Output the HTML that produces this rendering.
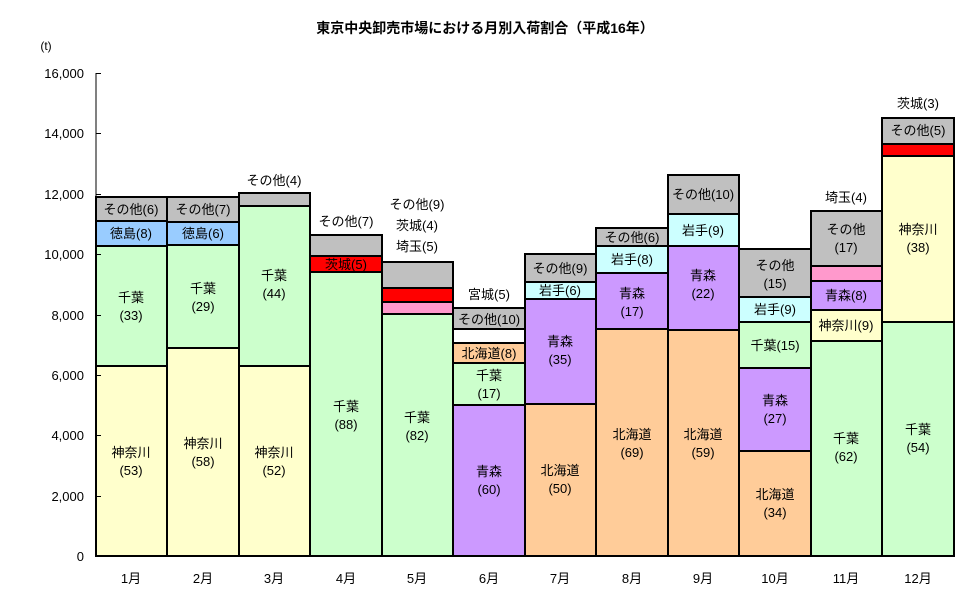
<!DOCTYPE html>
<html><head><meta charset="utf-8"><style>
body{margin:0;background:#fff}
svg text{font-family:"Liberation Sans","Noto Sans CJK JP",sans-serif;font-size:13px;fill:#000}
.s rect{stroke:#000;stroke-width:2}
</style></head><body>
<svg width="970" height="604" viewBox="0 0 970 604" xmlns="http://www.w3.org/2000/svg">
<text x="485" y="33" text-anchor="middle" style="font-weight:bold;font-size:14px">東京中央卸売市場における月別入荷割合（平成16年）</text>
<text x="46" y="50" text-anchor="middle" style="font-size:12px">(t)</text>
<g text-anchor="end" style="font-size:12px">
<text x="84" y="78">16,000</text><text x="84" y="138">14,000</text><text x="84" y="199">12,000</text><text x="84" y="259">10,000</text><text x="84" y="320">8,000</text><text x="84" y="380">6,000</text><text x="84" y="440">4,000</text><text x="84" y="501">2,000</text><text x="84" y="561">0</text>
</g>
<g class="s">
<!-- 1 -->
<rect x="96" y="366" width="71" height="190" fill="#FFFFCC"/><rect x="96" y="246" width="71" height="120" fill="#CCFFCC"/><rect x="96" y="221" width="71" height="25" fill="#99CCFF"/><rect x="96" y="197" width="71" height="24" fill="#C0C0C0"/>
<!-- 2 -->
<rect x="167" y="348" width="72" height="208" fill="#FFFFCC"/><rect x="167" y="245" width="72" height="103" fill="#CCFFCC"/><rect x="167" y="222" width="72" height="23" fill="#99CCFF"/><rect x="167" y="197" width="72" height="25" fill="#C0C0C0"/>
<!-- 3 -->
<rect x="239" y="366" width="71" height="190" fill="#FFFFCC"/><rect x="239" y="206" width="71" height="160" fill="#CCFFCC"/><rect x="239" y="193" width="71" height="13" fill="#C0C0C0"/>
<!-- 4 -->
<rect x="310" y="272" width="72" height="284" fill="#CCFFCC"/><rect x="310" y="256" width="72" height="16" fill="#FF0000"/><rect x="310" y="235" width="72" height="21" fill="#C0C0C0"/>
<!-- 5 -->
<rect x="382" y="314" width="71" height="242" fill="#CCFFCC"/><rect x="382" y="302" width="71" height="12" fill="#FF99CC"/><rect x="382" y="288" width="71" height="14" fill="#FF0000"/><rect x="382" y="262" width="71" height="26" fill="#C0C0C0"/>
<!-- 6 -->
<rect x="453" y="405" width="72" height="151" fill="#CC99FF"/><rect x="453" y="363" width="72" height="42" fill="#CCFFCC"/><rect x="453" y="343" width="72" height="20" fill="#FFCC99"/><rect x="453" y="329" width="72" height="14" fill="#FFFFFF"/><rect x="453" y="308" width="72" height="21" fill="#C0C0C0"/>
<!-- 7 -->
<rect x="525" y="404" width="71" height="152" fill="#FFCC99"/><rect x="525" y="299" width="71" height="105" fill="#CC99FF"/><rect x="525" y="282" width="71" height="17" fill="#CCFFFF"/><rect x="525" y="254" width="71" height="28" fill="#C0C0C0"/>
<!-- 8 -->
<rect x="596" y="329" width="72" height="227" fill="#FFCC99"/><rect x="596" y="273" width="72" height="56" fill="#CC99FF"/><rect x="596" y="246" width="72" height="27" fill="#CCFFFF"/><rect x="596" y="228" width="72" height="18" fill="#C0C0C0"/>
<!-- 9 -->
<rect x="668" y="330" width="71" height="226" fill="#FFCC99"/><rect x="668" y="246" width="71" height="84" fill="#CC99FF"/><rect x="668" y="214" width="71" height="32" fill="#CCFFFF"/><rect x="668" y="175" width="71" height="39" fill="#C0C0C0"/>
<!-- 10 -->
<rect x="739" y="451" width="72" height="105" fill="#FFCC99"/><rect x="739" y="368" width="72" height="83" fill="#CC99FF"/><rect x="739" y="322" width="72" height="46" fill="#CCFFCC"/><rect x="739" y="297" width="72" height="25" fill="#CCFFFF"/><rect x="739" y="249" width="72" height="48" fill="#C0C0C0"/>
<!-- 11 -->
<rect x="811" y="341" width="71" height="215" fill="#CCFFCC"/><rect x="811" y="310" width="71" height="31" fill="#FFFFCC"/><rect x="811" y="281" width="71" height="29" fill="#CC99FF"/><rect x="811" y="266" width="71" height="15" fill="#FF99CC"/><rect x="811" y="211" width="71" height="55" fill="#C0C0C0"/>
<!-- 12 -->
<rect x="882" y="322" width="72" height="234" fill="#CCFFCC"/><rect x="882" y="156" width="72" height="166" fill="#FFFFCC"/><rect x="882" y="144" width="72" height="12" fill="#FF0000"/><rect x="882" y="118" width="72" height="26" fill="#C0C0C0"/>
</g>
<line x1="96" y1="73" x2="96" y2="556" stroke="#000" stroke-width="1"/>
<line x1="96" y1="556" x2="955" y2="556" stroke="#000" stroke-width="1"/>
<g stroke="#000" stroke-width="1">
<line x1="96" y1="73.5" x2="101" y2="73.5"/><line x1="96" y1="133.5" x2="101" y2="133.5"/><line x1="96" y1="194.5" x2="101" y2="194.5"/><line x1="96" y1="254.5" x2="101" y2="254.5"/><line x1="96" y1="315.5" x2="101" y2="315.5"/><line x1="96" y1="375.5" x2="101" y2="375.5"/><line x1="96" y1="435.5" x2="101" y2="435.5"/><line x1="96" y1="496.5" x2="101" y2="496.5"/>
</g>
<g text-anchor="middle">
<text x="131" y="583">1月</text><text x="203" y="583">2月</text><text x="274" y="583">3月</text><text x="346" y="583">4月</text><text x="417" y="583">5月</text><text x="489" y="583">6月</text><text x="560" y="583">7月</text><text x="632" y="583">8月</text><text x="703" y="583">9月</text><text x="775" y="583">10月</text><text x="846" y="583">11月</text><text x="918" y="583">12月</text>
<!-- 1 -->
<text x="131" y="214">その他(6)</text><text x="131" y="238">徳島(8)</text><text x="131" y="302">千葉</text><text x="131" y="320">(33)</text><text x="131" y="457">神奈川</text><text x="131" y="475">(53)</text>
<!-- 2 -->
<text x="203" y="214">その他(7)</text><text x="203" y="238">徳島(6)</text><text x="203" y="293">千葉</text><text x="203" y="311">(29)</text><text x="203" y="448">神奈川</text><text x="203" y="466">(58)</text>
<!-- 3 -->
<text x="274" y="185">その他(4)</text><text x="274" y="280">千葉</text><text x="274" y="298">(44)</text><text x="274" y="457">神奈川</text><text x="274" y="475">(52)</text>
<!-- 4 -->
<text x="346" y="226">その他(7)</text><text x="346" y="269">茨城(5)</text><text x="346" y="411">千葉</text><text x="346" y="429">(88)</text>
<!-- 5 -->
<text x="417" y="209">その他(9)</text><text x="417" y="230">茨城(4)</text><text x="417" y="251">埼玉(5)</text><text x="417" y="422">千葉</text><text x="417" y="440">(82)</text>
<!-- 6 -->
<text x="489" y="299">宮城(5)</text><text x="489" y="324">その他(10)</text><text x="489" y="358">北海道(8)</text><text x="489" y="380">千葉</text><text x="489" y="398">(17)</text><text x="489" y="476">青森</text><text x="489" y="494">(60)</text>
<!-- 7 -->
<text x="560" y="273">その他(9)</text><text x="560" y="295">岩手(6)</text><text x="560" y="346">青森</text><text x="560" y="364">(35)</text><text x="560" y="475">北海道</text><text x="560" y="493">(50)</text>
<!-- 8 -->
<text x="632" y="242">その他(6)</text><text x="632" y="264">岩手(8)</text><text x="632" y="298">青森</text><text x="632" y="316">(17)</text><text x="632" y="439">北海道</text><text x="632" y="457">(69)</text>
<!-- 9 -->
<text x="703" y="199">その他(10)</text><text x="703" y="235">岩手(9)</text><text x="703" y="280">青森</text><text x="703" y="298">(22)</text><text x="703" y="439">北海道</text><text x="703" y="457">(59)</text>
<!-- 10 -->
<text x="775" y="270">その他</text><text x="775" y="288">(15)</text><text x="775" y="314">岩手(9)</text><text x="775" y="350">千葉(15)</text><text x="775" y="405">青森</text><text x="775" y="423">(27)</text><text x="775" y="499">北海道</text><text x="775" y="517">(34)</text>
<!-- 11 -->
<text x="846" y="202">埼玉(4)</text><text x="846" y="234">その他</text><text x="846" y="252">(17)</text><text x="846" y="300">青森(8)</text><text x="846" y="330">神奈川(9)</text><text x="846" y="443">千葉</text><text x="846" y="461">(62)</text>
<!-- 12 -->
<text x="918" y="108">茨城(3)</text><text x="918" y="135">その他(5)</text><text x="918" y="234">神奈川</text><text x="918" y="252">(38)</text><text x="918" y="434">千葉</text><text x="918" y="452">(54)</text>
</g>
</svg>
</body></html>
